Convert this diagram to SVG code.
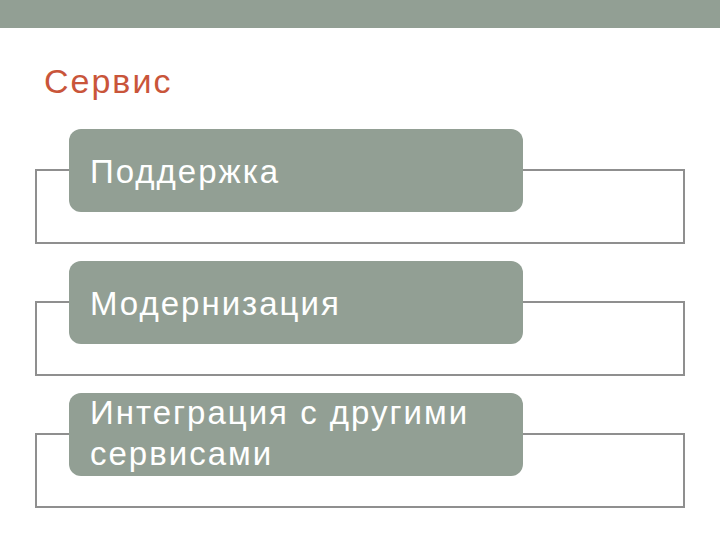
<svg xmlns="http://www.w3.org/2000/svg" width="720" height="540" viewBox="0 0 720 540">
<style>
.box{fill:#929f94;}
.frame{fill:none;stroke:#8f8f8f;stroke-width:2;}
.lbl{font-family:"Liberation Sans",Arial,sans-serif;fill:#ffffff;font-size:33px;letter-spacing:2px;}
.title{font-family:"Liberation Sans",Arial,sans-serif;fill:#c9553a;font-size:34px;letter-spacing:2px;}
</style>
<rect x="0" y="0" width="720" height="28" fill="#929f94"/>
<text class="title" x="44" y="93">Сервис</text>
<g id="connectors">
<path class="frame" d="M69,170 H36 V243 H684 V170 H523"/>
<path class="frame" d="M69,302 H36 V375 H684 V302 H523"/>
<path class="frame" d="M69,434 H36 V507 H684 V434 H523"/>
</g>
<g id="node1">
<rect class="box" x="69" y="129" width="454" height="83" rx="12"/>
<text class="lbl" x="90" y="183">Поддержка</text>
</g>
<g id="node2">
<rect class="box" x="69" y="261" width="454" height="83" rx="12"/>
<text class="lbl" x="90" y="315">Модернизация</text>
</g>
<g id="node3">
<rect class="box" x="69" y="393" width="454" height="83" rx="12"/>
<text class="lbl" x="90" y="424">Интеграция с другими</text>
<text class="lbl" x="90" y="465">сервисами</text>
</g>
</svg>
